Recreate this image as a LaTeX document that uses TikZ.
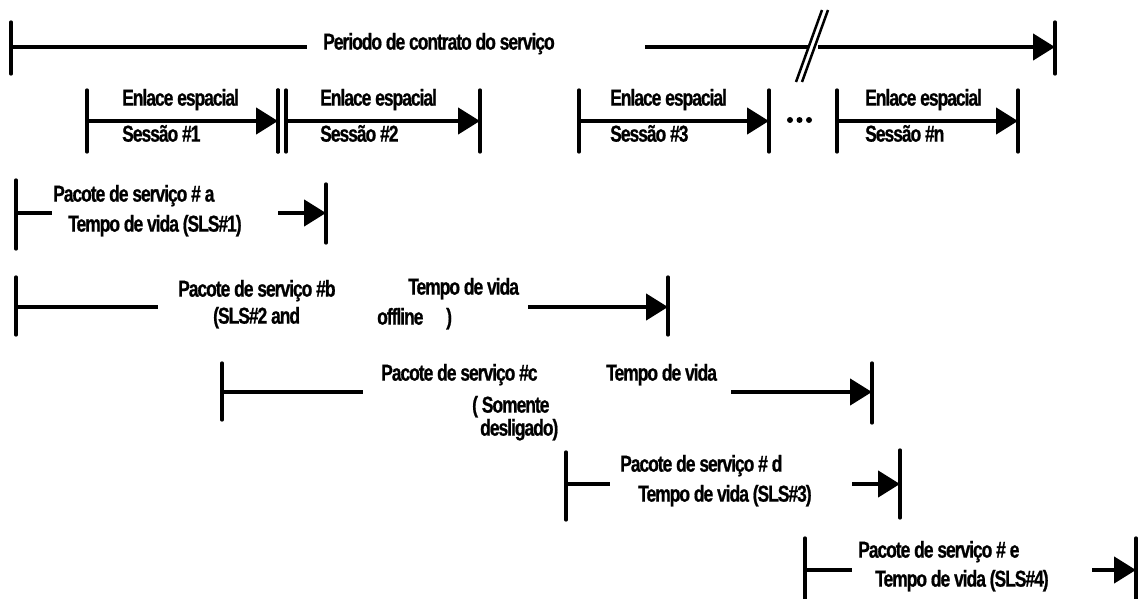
\documentclass[tikz,border=0pt]{standalone}
\usepackage{fontspec}
\setmainfont{Liberation Sans}[FakeStretch=0.76,LetterSpace=-4.5]
\usetikzlibrary{arrows.meta}
\begin{document}
\begin{tikzpicture}[x=1pt,y=-1pt,
  bar/.style={line width=3.3pt,line cap=round},
  span/.style={line width=4.5pt},
  spanarrow/.style={line width=4.5pt,-{Triangle[length=22pt,width=26pt]}},
  slash/.style={line width=2.5pt},
  lbl/.style={anchor=mid west,inner sep=0pt,font=\fontsize{23}{25}\selectfont\bfseries\addfontfeatures{FakeBold=0.8}}]
\useasboundingbox (0,0) rectangle (1138,599);

% ---- contract period
\coordinate (p0) at (11,47);
\coordinate (p0a) at (307,47);
\coordinate (p0b) at (645,47);
\coordinate (p0c) at (808,47);
\coordinate (p0d) at (818,47);
\coordinate (p0e) at (1055,47);
\draw[bar] (11,22) -- (11,74);
\draw[bar] (1055,22) -- (1055,74);
\draw[span] (p0) -- (p0a);
\node[lbl] (tperiod) at (323,47) {Periodo de contrato do serviço};
\draw[span] (p0b) -- (p0c);
\draw[spanarrow] (p0d) -- (p0e);
\draw[slash] (796,82) -- (822,10);
\draw[slash] (802,82) -- (828,10);

% ---- space link sessions
\foreach \xa/\xb/\xc in {87/278/122, 286/480/320, 579/769/610, 837/1018/865}{
  \draw[bar] (\xa,90) -- (\xa,152);
  \draw[bar] (\xb,90) -- (\xb,152);
  \draw[spanarrow] (\xa,121) -- (\xb,121);
  \node[lbl] at (\xc,103) {Enlace espacial};
}
\draw[bar] (278,90) -- (278,152);
\node[lbl] (s1) at (122,139) {Sessão \#1};
\node[lbl] (s2) at (320,139) {Sessão \#2};
\node[lbl] (s3) at (610,139) {Sessão \#3};
\node[lbl] (sn) at (865,139) {Sessão \#n};
\foreach \xd in {790,799.5,809} \fill (\xd,120) circle (3pt);

% ---- service package a
\draw[bar] (16,180) -- (16,249);
\draw[bar] (326,184) -- (326,243);
\coordinate (a0) at (16,213);
\coordinate (a1) at (52,213);
\coordinate (a2) at (278,213);
\coordinate (a3) at (326,213);
\draw[span] (a0) -- (a1);
\draw[spanarrow] (a2) -- (a3);
\node[lbl] (pa) at (53,199) {Pacote de serviço \# a};
\node[lbl] (ta) at (68,229) {Tempo de vida (SLS\#1)};

% ---- service package b
\draw[bar] (16,277) -- (16,335);
\draw[bar] (668,277) -- (668,335);
\coordinate (b0) at (16,307);
\coordinate (b1) at (158,307);
\coordinate (b2) at (528,307);
\coordinate (b3) at (668,307);
\draw[span] (b0) -- (b1);
\draw[spanarrow] (b2) -- (b3);
\node[lbl] (pb) at (178,294) {Pacote de serviço \#b};
\node[lbl] (sb) at (213,321) {(SLS\#2 and};
\node[lbl] (tb) at (408,292) {Tempo de vida};
\node[lbl] (ob) at (377,322) {offline};
\node[lbl] (cb) at (446,322) {)};

% ---- service package c
\draw[bar] (222,363) -- (222,420);
\draw[bar] (872,363) -- (872,423);
\coordinate (c0) at (222,392);
\coordinate (c1) at (363,392);
\coordinate (c2) at (731,392);
\coordinate (c3) at (872,392);
\draw[span] (c0) -- (c1);
\draw[spanarrow] (c2) -- (c3);
\node[lbl] (pc) at (381,378) {Pacote de serviço \#c};
\node[lbl] (tc) at (606,378) {Tempo de vida};
\node[lbl] (oc) at (472,410) {( Somente};
\node[lbl] (dc) at (480,433) {desligado)};

% ---- service package d
\draw[bar] (566,452) -- (566,520);
\draw[bar] (900,450) -- (900,518);
\coordinate (d0) at (566,484);
\coordinate (d1) at (610,484);
\coordinate (d2) at (852,484);
\coordinate (d3) at (900,484);
\draw[span] (d0) -- (d1);
\draw[spanarrow] (d2) -- (d3);
\node[lbl] (pd) at (620,469) {Pacote de serviço \# d};
\node[lbl] (td) at (638,499) {Tempo de vida (SLS\#3)};

% ---- service package e
\draw[bar] (805,538) -- (805,599);
\draw[bar] (1136,538) -- (1136,599);
\coordinate (e0) at (805,570);
\coordinate (e1) at (852,570);
\coordinate (e2) at (1092,570);
\coordinate (e3) at (1136,570);
\draw[span] (e0) -- (e1);
\draw[spanarrow] (e2) -- (e3);
\node[lbl] (pe) at (858,555) {Pacote de serviço \# e};
\node[lbl] (te) at (875,584) {Tempo de vida (SLS\#4)};
\end{tikzpicture}
\end{document}
